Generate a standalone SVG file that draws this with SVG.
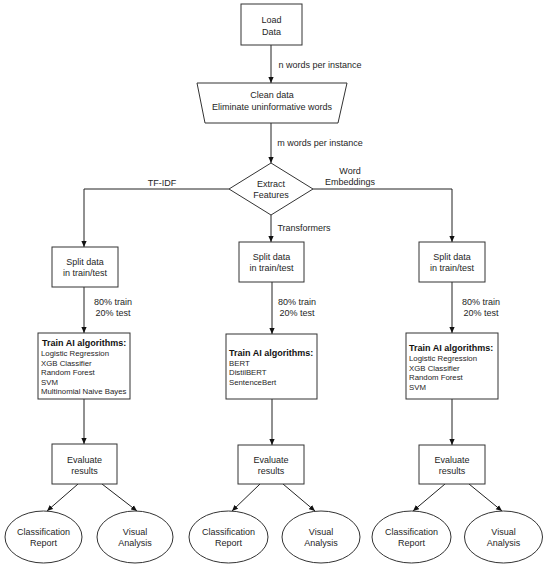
<svg xmlns="http://www.w3.org/2000/svg" width="550" height="569" viewBox="0 0 550 569">
<defs>
<marker id="ah" viewBox="0 0 8 8" refX="8" refY="4" markerWidth="6" markerHeight="6" markerUnits="userSpaceOnUse" orient="auto">
<path d="M0,0.5 L8,4 L0,7.5 Z" fill="#111"/>
</marker>
<style>
.n{fill:#fff;stroke:#333;stroke-width:1}
.t{font-family:"Liberation Sans",Arial,sans-serif;font-size:9px;fill:#1e1e1e;text-anchor:middle}
.b{font-family:"Liberation Sans",Arial,sans-serif;font-size:9px;font-weight:bold;fill:#111}
.s{font-family:"Liberation Sans",Arial,sans-serif;font-size:7.8px;fill:#1e1e1e}
.c{fill:none;stroke:#222;stroke-width:1}
.ca{fill:none;stroke:#222;stroke-width:1;marker-end:url(#ah)}
</style>
</defs>
<rect width="550" height="569" fill="#fff"/>
<g id="connectors">
<line class="ca" x1="271" y1="45" x2="271" y2="83"/>
<line class="ca" x1="271" y1="123" x2="271" y2="163"/>
<polyline class="ca" points="229,189 84,189 84,247"/>
<line class="ca" x1="271" y1="215" x2="271" y2="242"/>
<polyline class="ca" points="313,189 452,189 452,242"/>
<line class="ca" x1="84" y1="287" x2="84" y2="333"/>
<line class="ca" x1="272" y1="282" x2="272" y2="334"/>
<line class="ca" x1="452" y1="282" x2="452" y2="333"/>
<line class="ca" x1="84" y1="399" x2="84" y2="444"/>
<line class="ca" x1="272" y1="399" x2="272" y2="445"/>
<line class="ca" x1="452" y1="399" x2="452" y2="445"/>
<line class="ca" x1="78" y1="484" x2="47" y2="511"/>
<line class="ca" x1="102" y1="484" x2="137" y2="511"/>
<line class="ca" x1="260" y1="484" x2="232" y2="511"/>
<line class="ca" x1="283" y1="484" x2="315" y2="511"/>
<line class="ca" x1="445" y1="484" x2="413" y2="511"/>
<line class="ca" x1="469" y1="484" x2="502" y2="511"/>
<text class="t" x="320" y="68" style="text-anchor:middle">n words per instance</text>
<text class="t" x="320" y="146">m words per instance</text>
<text class="t" x="162" y="186">TF-IDF</text>
<text class="t" x="350" y="174">Word</text>
<text class="t" x="350" y="185">Embeddings</text>
<text class="t" x="304" y="231">Transformers</text>
<text class="t" x="113" y="305">80% train</text>
<text class="t" x="113" y="316">20% test</text>
<text class="t" x="297" y="305">80% train</text>
<text class="t" x="297" y="316">20% test</text>
<text class="t" x="481" y="305">80% train</text>
<text class="t" x="481" y="316">20% test</text>
</g>
<g id="load">
<rect class="n" x="241" y="4" width="61" height="41"/>
<text class="t" x="271.5" y="23">Load</text>
<text class="t" x="271.5" y="35">Data</text>
</g>
<g id="clean">
<path class="n" d="M197,83 L347,83 L338,123 L205,123 Z"/>
<text class="t" x="272" y="98">Clean data</text>
<text class="t" x="272" y="110">Eliminate uninformative words</text>
</g>
<g id="extract">
<path class="n" d="M271,163 L313,189 L271,215 L229,189 Z"/>
<text class="t" x="271" y="187">Extract</text>
<text class="t" x="271" y="198">Features</text>
</g>
<g id="split1">
<rect class="n" x="52" y="247" width="66" height="40"/>
<text class="t" x="85" y="265">Split data</text>
<text class="t" x="85" y="276">in train/test</text>
</g>
<g id="split2">
<rect class="n" x="239" y="242" width="65" height="40"/>
<text class="t" x="271.5" y="260">Split data</text>
<text class="t" x="271.5" y="271">in train/test</text>
</g>
<g id="split3">
<rect class="n" x="419" y="242" width="66" height="40"/>
<text class="t" x="452" y="260">Split data</text>
<text class="t" x="452" y="271">in train/test</text>
</g>
<g id="train1">
<rect class="n" x="38" y="333" width="92" height="66"/>
<text class="b" x="42" y="346">Train AI algorithms:</text>
<text class="s" x="41" y="356">Logistic Regression</text>
<text class="s" x="41" y="365.5">XGB Classifier</text>
<text class="s" x="41" y="375">Random Forest</text>
<text class="s" x="41" y="384.5">SVM</text>
<text class="s" x="41" y="394">Multinomial Naive Bayes</text>
</g>
<g id="train2">
<rect class="n" x="226" y="334" width="91" height="65"/>
<text class="b" x="229" y="356">Train AI algorithms:</text>
<text class="s" x="229" y="365.5">BERT</text>
<text class="s" x="229" y="375">DistilBERT</text>
<text class="s" x="229" y="384.5">SentenceBert</text>
</g>
<g id="train3">
<rect class="n" x="406" y="333" width="92" height="66"/>
<text class="b" x="409" y="351">Train AI algorithms:</text>
<text class="s" x="409" y="361">Logistic Regression</text>
<text class="s" x="409" y="370.5">XGB Classifier</text>
<text class="s" x="409" y="380">Random Forest</text>
<text class="s" x="409" y="389.5">SVM</text>
</g>
<g id="eval1">
<rect class="n" x="52" y="444" width="65" height="40"/>
<text class="t" x="84.5" y="463">Evaluate</text>
<text class="t" x="84.5" y="474">results</text>
</g>
<g id="eval2">
<rect class="n" x="238" y="445" width="66" height="39"/>
<text class="t" x="271" y="463">Evaluate</text>
<text class="t" x="271" y="474">results</text>
</g>
<g id="eval3">
<rect class="n" x="419" y="445" width="66" height="39"/>
<text class="t" x="452" y="463">Evaluate</text>
<text class="t" x="452" y="474">results</text>
</g>
<g id="report1">
<ellipse class="n" cx="43.5" cy="537" rx="38.5" ry="26"/>
<text class="t" x="43.5" y="535">Classification</text>
<text class="t" x="43.5" y="546">Report</text>
</g>
<g id="visual1">
<ellipse class="n" cx="135" cy="537" rx="38" ry="26"/>
<text class="t" x="135" y="535">Visual</text>
<text class="t" x="135" y="546">Analysis</text>
</g>
<g id="report2">
<ellipse class="n" cx="228.5" cy="537" rx="39.5" ry="26"/>
<text class="t" x="228.5" y="535">Classification</text>
<text class="t" x="228.5" y="546">Report</text>
</g>
<g id="visual2">
<ellipse class="n" cx="321" cy="537" rx="39" ry="26"/>
<text class="t" x="321" y="535">Visual</text>
<text class="t" x="321" y="546">Analysis</text>
</g>
<g id="report3">
<ellipse class="n" cx="411.5" cy="537" rx="39.5" ry="26"/>
<text class="t" x="411.5" y="535">Classification</text>
<text class="t" x="411.5" y="546">Report</text>
</g>
<g id="visual3">
<ellipse class="n" cx="503.5" cy="537" rx="39" ry="26"/>
<text class="t" x="503.5" y="535">Visual</text>
<text class="t" x="503.5" y="546">Analysis</text>
</g>
</svg>
